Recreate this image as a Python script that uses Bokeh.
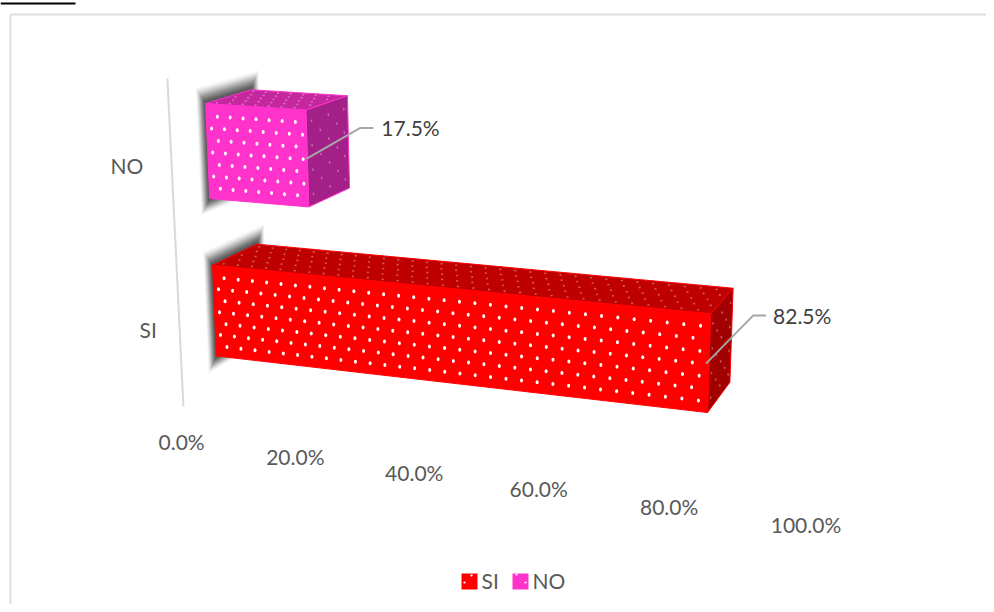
import numpy as np
from bokeh.plotting import figure
from bokeh.models import Range1d
from bokeh.core.properties import value
from bokeh.embed import file_html
from bokeh.resources import INLINE

# ---- data ----
categories = ["SI", "NO"]
percent_values = [82.5, 17.5]
tick_values = [0, 20, 40, 60, 80, 100]
tick_labels = ["0.0%", "20.0%", "40.0%", "60.0%", "80.0%", "100.0%"]
value_labels = ["82.5%", "17.5%"]

# ---- styles ----
FRONT = ["#FF0000", "#FF33CC"]
TOP = ["#BF0000", "#C4279E"]
SIDE = ["#A00000", "#A32088"]
TOP_DOT = ["#E8B0B0", "#E8B8DC"]
FONT = value("Lato")
GAP = 0.72          # gap between bars in bar-heights
AXIS_Z = -0.8       # depth of the value labels' row
LINE_Z = -0.73      # depth of the category axis line
TICK_Y = -0.69      # vertical place of value-axis labels
CAT_DX = [-28, -41]  # category label nudge
CAT_DY = [-2, 0]
LEADER = [(-3, 47, -48, 13), (-1, 54, -31, 13)]
LABEL_GAP = [7, 8]

# ---- camera: a 3D projection fitted to the box corners (value 0-1, height, depth) ----
def y0(i):
    return i * (1 + GAP)

v_si, v_no = percent_values[0] / 100, percent_values[1] / 100
CAL = [
    (0, 1, 0, 212, 265), (0, 0, 0, 216, 356), (v_si, 1, 0, 710, 313), (v_si, 0, 0, 707, 412),
    (v_si, 1, 1, 733, 288), (v_si, 0, 1, 729, 382), (0, 1, 1, 257, 243),
    (0, y0(1) + 1, 0, 205, 103), (0, y0(1), 0, 209, 198), (v_no, y0(1) + 1, 0, 306, 110),
    (v_no, y0(1), 0, 308, 206), (v_no, y0(1) + 1, 1, 347, 95), (v_no, y0(1), 1, 349, 187),
    (0, y0(1) + 1, 1, 250, 90),
]
A, b = [], []
for X, Y, Z, u, w in CAL:
    A.append([X, Y, Z, 1, 0, 0, 0, 0, -u * X, -u * Y, -u * Z]); b.append(u)
    A.append([0, 0, 0, 0, X, Y, Z, 1, -w * X, -w * Y, -w * Z]); b.append(w)
m = np.linalg.lstsq(np.array(A, float), np.array(b, float), rcond=None)[0]
M = np.append(m, 1).reshape(3, 4)


def P(X, Y, Z):
    q = M @ np.array([X, Y, Z, 1.0])
    return q[0] / q[2], q[1] / q[2]


def poly(pts):
    xy = [P(*t) for t in pts]
    return [a for a, _ in xy], [c for _, c in xy]


p = figure(width=986, height=604, x_range=Range1d(0, 986), y_range=Range1d(604, 0),
           output_backend="svg", toolbar_location=None, min_border=0,
           outline_line_color=None, background_fill_color="white")
p.axis.visible = False
p.grid.visible = False

# page furniture
p.line([0, 75], [3, 3], line_color="black", line_width=2)
p.line([10, 10, 986], [604, 14, 14], line_color="#DEDEDE", line_width=2)

# category axis line
ytop = y0(1) + 1
xs, ys = poly([(0, -0.33, LINE_Z), (0, ytop + 0.36, LINE_Z)])
p.line(xs, ys, line_color="#D9D9D9", line_width=2)


def dots(pts, color, alpha=1.0, w=3.0, h=4.0):
    if pts:
        xy = [P(*t) for t in pts]
        p.ellipse([a for a, _ in xy], [c for _, c in xy], width=w, height=h,
                  fill_color=color, fill_alpha=alpha, line_color=None)


for i, pct in enumerate(percent_values):
    v = pct / 100
    y_b, y_t = y0(i), y0(i) + 1
    # soft shadow of the bar's end cap
    N = 20
    for k in range(N):
        e = 0.22 * (1 - k / N) - 0.03
        xs, ys = poly([(0, y_t + e, -e), (0, y_t + e, 1 + e), (0, y_b - 0.75 * e, 1 + e), (0, y_b - 0.75 * e, -e)])
        p.patch(xs, ys, fill_color="#303030", fill_alpha=0.02 + 0.009 * k, line_color=None)

    # faces
    for pts, col in [
        ([(0, y_t, 0), (0, y_t, 1), (v, y_t, 1), (v, y_t, 0)], TOP[i]),
        ([(v, y_t, 0), (v, y_t, 1), (v, y_b, 1), (v, y_b, 0)], SIDE[i]),
        ([(0, y_t, 0), (v, y_t, 0), (v, y_b, 0), (0, y_b, 0)], FRONT[i]),
    ]:
        xs, ys = poly(pts)
        p.patch(xs, ys, fill_color=col, line_color=FRONT[i], line_width=1)

    # dot texture
    pitch = 0.0255 if i == 0 else 0.0227
    front = []
    for r in range(7):
        yy = y_t - (11.7 + 11.5 * r) / 91
        vv = 0.02 if r % 2 == 0 else 0.009
        while vv < v - 0.006:
            front.append((vv, yy, 0))
            vv += pitch
    dots(front, "white")

    top = []
    for r in range(5):
        zz = 0.1 + 0.2 * r
        vv = 0.012 if r % 2 == 0 else 0.024
        while vv < v - 0.006:
            top.append((vv, y_t, zz))
            vv += pitch
    dots(top, TOP_DOT[i], 0.5, 2.4, 1.8)

    side = []
    for r in range(7):
        yy = y_t - (11.7 + 11.5 * r) / 91
        for zz in ([0.12, 0.52, 0.9] if r % 2 == 0 else [0.32, 0.72]):
            side.append((v, yy, zz))
    dots(side, TOP_DOT[i], 0.45, 1.8, 2.8)

    # leader and data label
    sx, sy = P(v, y_b + 0.5, 0)
    sh, dx, dy, run = LEADER[i]
    sx += sh
    p.line([sx, sx + dx, sx + dx + run], [sy, sy + dy, sy + dy], line_color="#A6A6A6", line_width=2)
    p.text([sx + dx + run + LABEL_GAP[i]], [sy + dy], text=[value_labels[i]], text_font=FONT,
           text_font_size="21px", text_color="#404040", text_align="left", text_baseline="middle")

    # category label
    cx, cy = P(0, y0(i) + 0.5, AXIS_Z)
    p.text([cx + CAT_DX[i]], [cy + CAT_DY[i]], text=[categories[i]], text_font=FONT, text_font_size="21px",
           text_color="#595959", text_align="center", text_baseline="middle")

# value-axis labels
for t, lab in zip(tick_values, tick_labels):
    tx, ty = P(t / 100, TICK_Y, AXIS_Z)
    p.text([tx], [ty], text=[lab], text_font=FONT, text_font_size="21px",
           text_color="#595959", text_align="center", text_baseline="middle")

# legend
leg_x = [461, 512]
for i, c in enumerate(categories):
    p.quad(left=[leg_x[i]], right=[leg_x[i] + 16], top=[573], bottom=[589], fill_color=FRONT[i], line_color=None)
    p.ellipse([leg_x[i] + (10 if i == 0 else 4), leg_x[i] + (3 if i == 0 else 13)],
              [575 if i == 0 else 574, 582], width=2.4, height=2, fill_color="white", line_color=None)
    p.text([leg_x[i] + 20], [580], text=[c], text_font=FONT, text_font_size="21px",
           text_color="#595959", text_align="left", text_baseline="middle")

open("out.html", "w").write(file_html(p, INLINE))
